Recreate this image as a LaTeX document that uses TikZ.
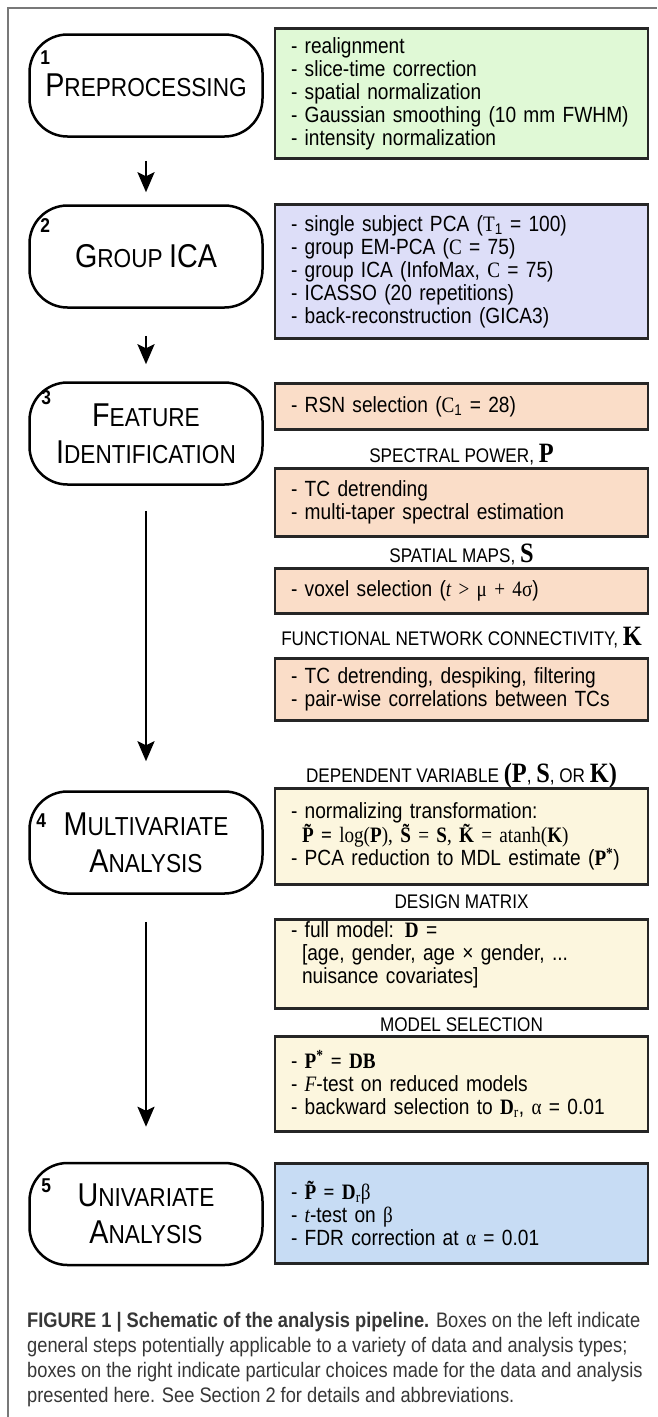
\documentclass[tikz,border=0pt]{standalone}
\usepackage{fontspec}
\setmainfont{Liberation Sans}[FakeStretch=0.87]
\newfontfamily\tms{Liberation Serif}[FakeStretch=0.87]
\usetikzlibrary{arrows.meta}
\definecolor{prepgreen}{RGB}{224,249,214}
\definecolor{icablue}{RGB}{221,222,248}
\definecolor{featpeach}{RGB}{250,221,200}
\definecolor{anacream}{RGB}{252,246,222}
\definecolor{unisky}{RGB}{199,220,244}
\definecolor{framegray}{RGB}{120,120,120}
\definecolor{capgray}{RGB}{55,55,55}
\newcommand{\capword}[2]{{\fontsize{33pt}{33pt}\selectfont #1}{\fontsize{26pt}{26pt}\selectfont #2}}
\newcommand{\sbf}[1]{{\tms\bfseries #1}}
\newcommand{\srm}[1]{{\tms #1}}
\newcommand{\sit}[1]{{\tms\itshape #1}}
\newcommand{\bigbf}[1]{{\tms\bfseries\fontsize{28pt}{28pt}\selectfont #1}}
\tikzstyle{stage} = [rectangle, rounded corners=38pt, draw=black, line width=2.5pt, fill=white, minimum width=233pt, minimum height=102pt, align=center, inner sep=0pt, font=\fontsize{26pt}{37pt}\selectfont]
\tikzstyle{detail} = [rectangle, draw=black!85, line width=2.8pt, text width=341pt, align=left, inner xsep=16pt, inner ysep=0pt, anchor=north, font=\fontsize{22pt}{23pt}\selectfont]
\tikzstyle{head} = [anchor=base, inner sep=0pt, font=\fontsize{19.7pt}{19.7pt}\selectfont]
\tikzstyle{num} = [inner sep=0pt, font=\bfseries\fontsize{20pt}{20pt}\selectfont]
\tikzstyle{arrow} = [-{Stealth[length=20pt,width=17pt,inset=4pt]}, line width=2.5pt]
\tikzstyle{caption} = [anchor=north west, align=left, inner sep=0pt, text=capgray, font=\fontsize{21pt}{25pt}\selectfont]

\begin{document}
\begin{tikzpicture}[x=1pt, y=-1pt]
\useasboundingbox[fill=white] (0,0) rectangle (657,1417);
\draw[framegray, line width=1.5pt] (8,1417) -- (8,8) -- (657,8);

\node[stage] (pre) at (146,85.5) {\capword{P}{REPROCESSING}};
\node[stage] (gica) at (146,256.5) {\capword{G}{ROUP} {\fontsize{33pt}{33pt}\selectfont ICA}};
\node[stage] (feat) at (146,433.5) {\capword{F}{EATURE}\\\capword{I}{DENTIFICATION}};
\node[stage] (multi) at (146,842.5) {\capword{M}{ULTIVARIATE}\\\capword{A}{NALYSIS}};
\node[stage] (uni) at (146,1214) {\capword{U}{NIVARIATE}\\\capword{A}{NALYSIS}};

\foreach \n/\b/\x/\y in {1/pre/17/24, 2/gica/17/21, 3/feat/18/16, 4/multi/13/30, 5/uni/18/24}
{\node[num] (n\n) at ([xshift=\x pt,yshift=-\y pt]\b.north west) {\n};}

\foreach \a/\b/\s/\e in {pre/gica/23/12, gica/feat/27/17, feat/multi/25/29, multi/uni/27/35}
{\draw[arrow] ([yshift=-\s pt]\a.south) -- ([yshift=\e pt]\b.north);}

\node[detail, fill=prepgreen, minimum height=130pt] (prelist) at (461.5,27) {- realignment\\- slice-time correction\\- spatial normalization\\- Gaussian smoothing (10 mm FWHM)\\- intensity normalization};
\node[detail, fill=icablue, minimum height=134pt] (icalist) at (461.5,203) {- single subject PCA (\srm{T}\textsubscript{1} = 100)\\- group EM-PCA (\srm{C} = 75)\\- group ICA (InfoMax, \srm{C} = 75)\\- ICASSO (20 repetitions)\\- back-reconstruction (GICA3)};
\node[detail, fill=featpeach, minimum height=46pt] (rsn) at (461.5,382) {- RSN selection (\srm{C}\textsubscript{1} = 28)};

\node[head] (powhead) at (461.5,462) {SPECTRAL POWER, \bigbf{P}};
\node[detail, fill=featpeach, minimum height=68pt] (pow) at (461.5,467) {- TC detrending\\- multi-taper spectral estimation};

\node[head] (maphead) at (461.5,562) {SPATIAL MAPS, \bigbf{S}};
\node[detail, fill=featpeach, minimum height=45pt] (map) at (461.5,567) {- voxel selection (\sit{t} \srm{> μ + 4σ})};

\node[head] (fnchead) at (461.5,645) {FUNCTIONAL NETWORK CONNECTIVITY, \bigbf{K}};
\node[detail, fill=featpeach, minimum height=62pt] (fnc) at (461.5,657) {- TC detrending, despiking, filtering\\- pair-wise correlations between TCs};

\node[head] (dephead) at (461.5,782) {DEPENDENT VARIABLE \bigbf{(P}, \bigbf{S}, OR \bigbf{K)}};
\node[detail, fill=anacream, minimum height=96pt] (dep) at (461.5,787) {- normalizing transformation:\\\hspace*{11pt}\sbf{\~P =} \srm{log(}\sbf{P}\srm{),} \sbf{\~S} \srm{=} \sbf{S}\srm{,} \sbf{\~K} \srm{= atanh(}\sbf{K}\srm{)}\\- PCA reduction to MDL estimate (\sbf{P}\textsuperscript{\sbf{*}})};

\node[head] (deshead) at (461.5,908) {DESIGN MATRIX};
\node[detail, fill=anacream, minimum height=89pt] (des) at (461.5,918) {- full model: \sbf{D} =\\\hspace*{11pt}[age, gender, age × gender, ...\\\hspace*{11pt}nuisance covariates]\\\mbox{}};

\node[head] (selhead) at (461.5,1031) {MODEL SELECTION};
\node[detail, fill=anacream, minimum height=95pt] (sel) at (461.5,1035) {- \sbf{P\textsuperscript{*} = DB}\\- \sit{F}-test on reduced models\\- backward selection to \sbf{D}\textsubscript{\srm{r}}, \srm{α} = 0.01};

\node[detail, fill=unisky, minimum height=100pt] (unilist) at (461.5,1162) {- \sbf{\~P =} \sbf{D}\textsubscript{\srm{r}}\srm{β}\\- \sit{t}-test on \srm{β}\\- FDR correction at \srm{α} = 0.01};

\node[caption] (cap) at (27,1312) {\textbf{FIGURE 1 | Schematic of the analysis pipeline.} Boxes on the left indicate\\general steps potentially applicable to a variety of data and analysis types;\\boxes on the right indicate particular choices made for the data and analysis\\presented here. See Section 2 for details and abbreviations.};
\end{tikzpicture}
\end{document}
